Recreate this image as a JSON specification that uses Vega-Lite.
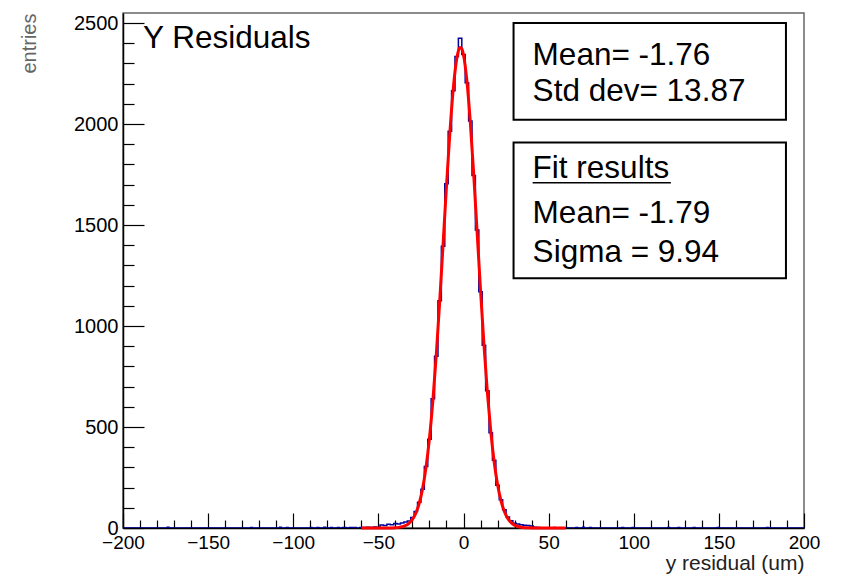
{
  "$schema": "https://vega.github.io/schema/vega-lite/v6.json",
  "width": 681,
  "height": 515,
  "autosize": {"type": "none"},
  "padding": {"left": 123, "top": 13, "right": 39, "bottom": 48},
  "background": "white",
  "config": {
    "view": {"stroke": "#666666", "strokeWidth": 1.5},
    "font": "Liberation Sans",
    "text": {"font": "Liberation Sans"}
  },
  "resolve": {"axis": {"x": "independent", "y": "independent"}},
  "datasets": {
    "hist": [
      {"lo": -200, "count": 0},
      {"lo": -174, "count": 4}, {"lo": -173, "count": 0},
      {"lo": -125, "count": 3}, {"lo": -124, "count": 0},
      {"lo": -108, "count": 4}, {"lo": -107, "count": 0},
      {"lo": -104, "count": 3}, {"lo": -103, "count": 0},
      {"lo": -90, "count": 3}, {"lo": -89, "count": 0},
      {"lo": -86, "count": 3}, {"lo": -85, "count": 0},
      {"lo": -82, "count": 4}, {"lo": -81, "count": 0},
      {"lo": -78, "count": 3}, {"lo": -77, "count": 0},
      {"lo": -74, "count": 3}, {"lo": -73, "count": 0},
      {"lo": -71, "count": 3},
      {"lo": -69, "count": 0},
      {"lo": -67, "count": 3},
      {"lo": -65, "count": 2},
      {"lo": -63, "count": 0},
      {"lo": -61, "count": 3},
      {"lo": -59, "count": 2},
      {"lo": -57, "count": 4},
      {"lo": -55, "count": 3},
      {"lo": -53, "count": 5},
      {"lo": -51, "count": 4},
      {"lo": -49, "count": 15},
      {"lo": -47, "count": 12},
      {"lo": -45, "count": 18},
      {"lo": -43, "count": 16},
      {"lo": -41, "count": 22},
      {"lo": -39, "count": 20},
      {"lo": -37, "count": 25},
      {"lo": -35, "count": 30},
      {"lo": -33, "count": 35},
      {"lo": -31, "count": 52},
      {"lo": -29, "count": 82},
      {"lo": -27, "count": 128},
      {"lo": -25, "count": 192},
      {"lo": -23, "count": 305},
      {"lo": -21, "count": 440},
      {"lo": -19, "count": 640},
      {"lo": -17, "count": 850},
      {"lo": -15, "count": 1125},
      {"lo": -13, "count": 1395},
      {"lo": -11, "count": 1705},
      {"lo": -9, "count": 1965},
      {"lo": -7, "count": 2165},
      {"lo": -5, "count": 2335},
      {"lo": -3, "count": 2425},
      {"lo": -1, "count": 2345},
      {"lo": 1, "count": 2205},
      {"lo": 3, "count": 2015},
      {"lo": 5, "count": 1745},
      {"lo": 7, "count": 1475},
      {"lo": 9, "count": 1170},
      {"lo": 11, "count": 905},
      {"lo": 13, "count": 680},
      {"lo": 15, "count": 472},
      {"lo": 17, "count": 335},
      {"lo": 19, "count": 212},
      {"lo": 21, "count": 140},
      {"lo": 23, "count": 90},
      {"lo": 25, "count": 55},
      {"lo": 27, "count": 36},
      {"lo": 29, "count": 24},
      {"lo": 31, "count": 20},
      {"lo": 33, "count": 16},
      {"lo": 35, "count": 14},
      {"lo": 37, "count": 12},
      {"lo": 39, "count": 10},
      {"lo": 41, "count": 4},
      {"lo": 43, "count": 2},
      {"lo": 45, "count": 0},
      {"lo": 53, "count": 3}, {"lo": 54, "count": 0},
      {"lo": 66, "count": 3}, {"lo": 67, "count": 0},
      {"lo": 70, "count": 4}, {"lo": 71, "count": 0},
      {"lo": 74, "count": 3}, {"lo": 75, "count": 0},
      {"lo": 93, "count": 3}, {"lo": 94, "count": 0},
      {"lo": 99, "count": 3}, {"lo": 100, "count": 0},
      {"lo": 120, "count": 3}, {"lo": 121, "count": 0},
      {"lo": 126, "count": 3}, {"lo": 127, "count": 0},
      {"lo": 135, "count": 3}, {"lo": 136, "count": 0},
      {"lo": 149, "count": 3}, {"lo": 150, "count": 0},
      {"lo": 178, "count": 3}, {"lo": 179, "count": 0},
      {"lo": 200, "count": 0}
    ],
    "fit": [
      {"x": -60, "y": 0},
      {"x": -50, "y": 0.05},
      {"x": -44, "y": 0.3},
      {"x": -40, "y": 1.5},
      {"x": -38, "y": 3.1},
      {"x": -36, "y": 6.4},
      {"x": -34, "y": 12.5},
      {"x": -32, "y": 23.5},
      {"x": -30, "y": 42.4},
      {"x": -28, "y": 73.6},
      {"x": -26, "y": 122.6},
      {"x": -24, "y": 196.1},
      {"x": -22, "y": 301.3},
      {"x": -20, "y": 444.4},
      {"x": -18, "y": 629.5},
      {"x": -16, "y": 856.6},
      {"x": -14, "y": 1119.3},
      {"x": -12, "y": 1404.5},
      {"x": -10, "y": 1692.2},
      {"x": -8, "y": 1958.0},
      {"x": -6, "y": 2175.8},
      {"x": -4, "y": 2321.9},
      {"x": -3, "y": 2362.4},
      {"x": -2, "y": 2379.5},
      {"x": -1, "y": 2372.5},
      {"x": 0, "y": 2341.7},
      {"x": 2, "y": 2213.2},
      {"x": 4, "y": 2008.7},
      {"x": 6, "y": 1750.7},
      {"x": 8, "y": 1465.4},
      {"x": 10, "y": 1177.6},
      {"x": 12, "y": 909.2},
      {"x": 14, "y": 674.0},
      {"x": 16, "y": 479.8},
      {"x": 18, "y": 328.0},
      {"x": 20, "y": 215.2},
      {"x": 22, "y": 135.7},
      {"x": 24, "y": 82.1},
      {"x": 26, "y": 47.8},
      {"x": 28, "y": 26.7},
      {"x": 30, "y": 14.3},
      {"x": 32, "y": 7.4},
      {"x": 34, "y": 3.6},
      {"x": 36, "y": 1.7},
      {"x": 38, "y": 0.8},
      {"x": 40, "y": 0.35},
      {"x": 44, "y": 0.04},
      {"x": 60, "y": 0}
    ]
  },
  "layer": [
    {
      "data": {"name": "hist"},
      "mark": {"type": "line", "interpolate": "step-after", "color": "#000099", "strokeWidth": 1.5, "clip": true},
      "encoding": {
        "x": {
          "field": "lo", "type": "quantitative",
          "scale": {"domain": [-200, 200], "nice": false, "zero": false},
          "axis": {
            "orient": "bottom",
            "values": [-200, -150, -100, -50, 0, 50, 100, 150, 200],
            "format": "d",
            "tickSize": -15,
            "labelPadding": 20,
            "labelFontSize": 19,
            "labelFont": "Liberation Sans",
            "labelColor": "black",
            "labelOverlap": false,
            "labelFlush": false,
            "grid": false,
            "domainColor": "black",
            "domainWidth": 1.5,
            "tickColor": "black",
            "tickWidth": 1.2,
            "title": "y residual (um)",
            "titleAnchor": "end",
            "titleFont": "Liberation Sans",
            "titleFontSize": 21,
            "titleFontWeight": "normal",
            "titleColor": "#222222",
            "titlePadding": 0
          }
        },
        "y": {
          "field": "count", "type": "quantitative",
          "scale": {"domain": [0, 2550], "nice": false},
          "axis": {
            "orient": "left",
            "values": [0, 500, 1000, 1500, 2000, 2500],
            "format": "d",
            "tickSize": -21,
            "labelPadding": 26,
            "labelFontSize": 20,
            "labelFont": "Liberation Sans",
            "labelColor": "black",
            "labelOverlap": false,
            "labelFlush": false,
            "grid": false,
            "domainColor": "black",
            "domainWidth": 1.5,
            "tickColor": "black",
            "tickWidth": 1.2,
            "title": "entries",
            "titleAnchor": "end",
            "titleFont": "Liberation Sans",
            "titleFontSize": 20,
            "titleFontWeight": "normal",
            "titleColor": "#666666",
            "titlePadding": 34
          }
        }
      }
    },
    {
      "data": {"name": "fit"},
      "mark": {"type": "line", "interpolate": "monotone", "color": "#ff0000", "strokeWidth": 3},
      "encoding": {
        "x": {
          "field": "x", "type": "quantitative",
          "axis": {
            "orient": "bottom",
            "values": [-190,-180,-170,-160,-140,-130,-120,-110,-90,-80,-70,-60,-40,-30,-20,-10,10,20,30,40,60,70,80,90,110,120,130,140,160,170,180,190],
            "labels": false,
            "domain": false,
            "grid": false,
            "tickSize": -8,
            "tickColor": "black",
            "tickWidth": 1.2,
            "title": null
          }
        },
        "y": {
          "field": "y", "type": "quantitative",
          "axis": {
            "orient": "left",
            "values": [100,200,300,400,600,700,800,900,1100,1200,1300,1400,1600,1700,1800,1900,2100,2200,2300,2400],
            "labels": false,
            "domain": false,
            "grid": false,
            "tickSize": -11,
            "tickColor": "black",
            "tickWidth": 1.2,
            "title": null
          }
        }
      }
    },
    {
      "data": {"values": [{}]},
      "mark": {"type": "rect", "fill": "white", "stroke": "black", "strokeWidth": 2},
      "encoding": {
        "x": {"datum": 29.4, "type": "quantitative", "axis": null},
        "x2": {"datum": 189.4},
        "y": {"datum": 2501, "type": "quantitative", "axis": null},
        "y2": {"datum": 2022}
      }
    },
    {
      "data": {"values": [{}]},
      "mark": {"type": "rect", "fill": "white", "stroke": "black", "strokeWidth": 2},
      "encoding": {
        "x": {"datum": 29.4, "type": "quantitative", "axis": null},
        "x2": {"datum": 189.4},
        "y": {"datum": 1909, "type": "quantitative", "axis": null},
        "y2": {"datum": 1237}
      }
    },
    {
      "data": {"values": [{}]},
      "mark": {"type": "rule", "stroke": "black", "strokeWidth": 1.5},
      "encoding": {
        "x": {"datum": 40.6, "type": "quantitative", "axis": null},
        "x2": {"datum": 121.8},
        "y": {"datum": 1710, "type": "quantitative", "axis": null}
      }
    },
    {
      "data": {"values": [
        {"tx": -188.2, "ty": 2377, "label": "Y Residuals"},
        {"tx": 40.6, "ty": 2294, "label": "Mean= -1.76"},
        {"tx": 40.6, "ty": 2112, "label": "Std dev= 13.87"},
        {"tx": 40.6, "ty": 1734, "label": "Fit results"},
        {"tx": 40.6, "ty": 1511, "label": "Mean= -1.79"},
        {"tx": 40.6, "ty": 1318, "label": "Sigma = 9.94"}
      ]},
      "mark": {"type": "text", "align": "left", "baseline": "alphabetic", "fontSize": 31.5, "font": "Liberation Sans", "color": "black"},
      "encoding": {
        "x": {"field": "tx", "type": "quantitative", "axis": null},
        "y": {"field": "ty", "type": "quantitative", "axis": null},
        "text": {"field": "label"}
      }
    }
  ]
}
